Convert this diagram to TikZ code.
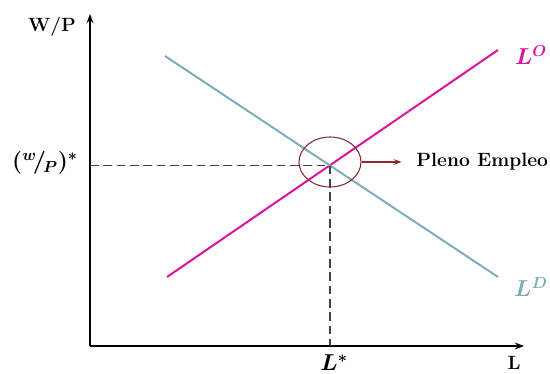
\documentclass[tikz,border=0pt]{standalone}
\usepackage{amsmath,amssymb,bm}
\usepackage{xcolor}
\usepackage{tikz}
\usetikzlibrary{arrows.meta,positioning,shapes.geometric}
\definecolor{ofertac}{HTML}{DB129E}
\definecolor{demandac}{HTML}{7DAEB6}
\definecolor{circc}{HTML}{8B2A2E}
\definecolor{guiac}{HTML}{404040}
\tikzset{
  ax/.style={-{Stealth[length=2.4mm]},line width=1.2pt,black},
  curva/.style={line width=1.5pt},
  guia/.style={line width=1.2pt,guiac,dash pattern=on 6.5pt off 3.5pt},
  lbl/.style={font=\Large\bfseries,inner sep=1pt},
  flecha/.style={-{Stealth[length=2mm]},thick,circc}
}
\begin{document}
\begin{tikzpicture}[x=0.75pt,y=-0.75pt]
\useasboundingbox (0,0) rectangle (550,374);
% ejes
\coordinate (O) at (90,346);
\coordinate (ytop) at (90,14);
\coordinate (xend) at (524,346);
\draw[ax] (O)--(ytop);
\draw[ax] (O)--(xend);
\node[lbl] (wp) at (52,27) {W/P};
\node[lbl] (lx) at (514,363) {L};
% oferta y demanda
\coordinate (o1) at (167,277);
\coordinate (o2) at (498,50);
\coordinate (d1) at (165,56);
\coordinate (d2) at (498,277);
\draw[curva,ofertac] (o1)--(o2);
\draw[curva,demandac] (d1)--(d2);
\node[lbl,text=ofertac] (lo) at (531,55) {\LARGE$\bm{L^{O}}$};
\node[lbl,text=demandac] (ld) at (531,287) {\LARGE$\bm{L^{D}}$};
% equilibrio
\coordinate (E) at (intersection of o1--o2 and d1--d2);
\coordinate (ey) at (O|-E);
\coordinate (ex) at (E|-O);
\draw[guia] (ey)--(E)--(ex);
\node[lbl] (ls) at (334,363) {\LARGE$\bm{L^{*}}$};
\node[lbl] (ws) at (45,163) {\LARGE$\bm{({}^{w}\!/_{\!P})^{*}}$};
\node[draw=circc,thick,ellipse,inner sep=0pt,minimum width=46.5pt,minimum height=37.5pt] (circ) at (330,162) {};
\draw[flecha] (circ.east)--++(40,0) coordinate (fin);
\node[lbl,right=10pt of fin] (pe) {Pleno Empleo};
\end{tikzpicture}
\end{document}
